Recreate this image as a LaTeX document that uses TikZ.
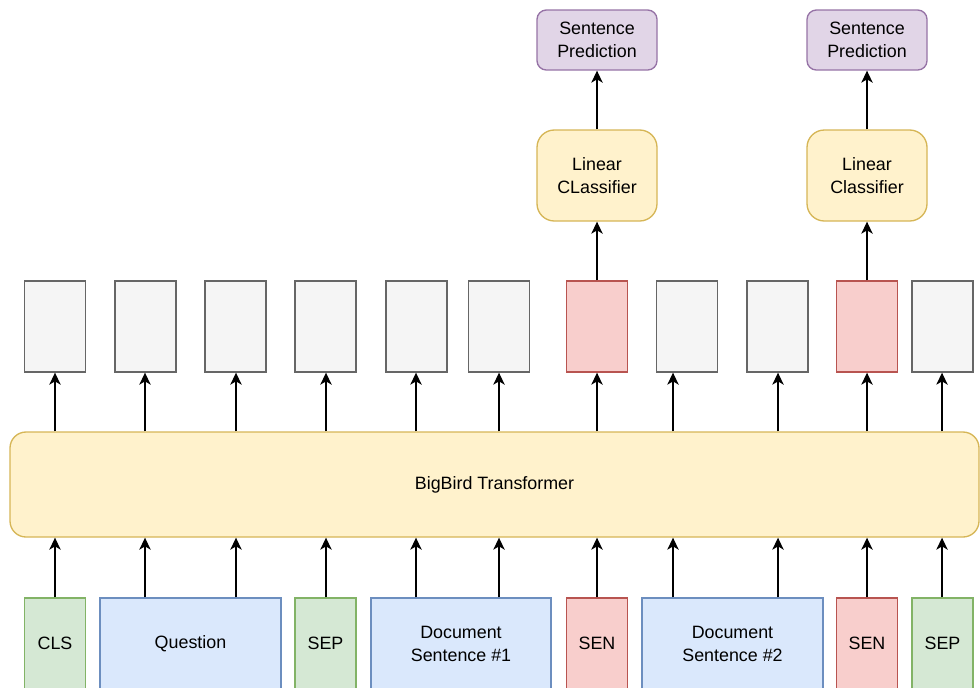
\documentclass[tikz,border=0pt]{standalone}
\usepackage{fontspec}
\setmainfont{Liberation Sans}
\usetikzlibrary{arrows.meta}

\definecolor{tokfill}{HTML}{F5F5F5}
\definecolor{tokline}{HTML}{666666}
\definecolor{senfill}{HTML}{F8CECC}
\definecolor{senline}{HTML}{B85450}
\definecolor{spcfill}{HTML}{D5E8D4}
\definecolor{spcline}{HTML}{82B366}
\definecolor{txtfill}{HTML}{DAE8FC}
\definecolor{txtline}{HTML}{6C8EBF}
\definecolor{modfill}{HTML}{FFF2CC}
\definecolor{modline}{HTML}{D6B656}
\definecolor{outfill}{HTML}{E1D5E7}
\definecolor{outline}{HTML}{9673A6}

\tikzset{
    every node/.style={font=\fontsize{13.4pt}{17.3pt}\selectfont, align=center, inner sep=0pt},
    token/.style={draw, line width=1pt, minimum width=45.75pt, minimum height=68.25pt},
    graytok/.style={token, fill=tokfill, draw=tokline},
    sentok/.style={token, fill=senfill, draw=senline},
    spctok/.style={token, fill=spcfill, draw=spcline},
    txttok/.style={token, fill=txtfill, draw=txtline},
    classbox/.style={draw=modline, fill=modfill, line width=1pt, rounded corners=13pt,
        minimum width=90pt, minimum height=68.25pt},
    predbox/.style={draw=outline, fill=outfill, line width=1pt, rounded corners=7pt,
        minimum width=90pt, minimum height=45pt},
    arr/.style={line width=1.1pt, -{Stealth[length=9pt,width=8.5pt,inset=2.5pt]}},
}

\begin{document}
\begin{tikzpicture}[x=0.75pt,y=-0.75pt]
        \useasboundingbox (0,0) rectangle (980,687);
        %% transformer
        \node[draw=modline, fill=modfill, line width=1pt, rounded corners=12pt,
            minimum width=726.75pt, minimum height=78.75pt] (bigbird) at (494.5,484.5) {BigBird Transformer};
        %% input tokens
        \node[spctok] (cls) at (55,643.5) {CLS};
        \node[txttok, minimum width=135.75pt] (question) at (190.5,643.5) {Question};
        \node[spctok] (sepa) at (325.5,643.5) {SEP};
        \node[txttok, minimum width=135pt] (docone) at (461,643.5) {Document\\Sentence \#1};
        \node[sentok] (senone) at (597,643.5) {SEN};
        \node[txttok, minimum width=135.75pt] (doctwo) at (732.5,643.5) {Document\\Sentence \#2};
        \node[sentok] (sentwo) at (867,643.5) {SEN};
        \node[spctok] (sepb) at (942.5,643.5) {SEP};
        %% output embeddings
        \node[graytok] (out1) at (55,326.5) {};
        \node[graytok] (out2) at (145.5,326.5) {};
        \node[graytok] (out3) at (235.5,326.5) {};
        \node[graytok] (out4) at (325.5,326.5) {};
        \node[graytok] (out5) at (416.5,326.5) {};
        \node[graytok] (out6) at (499,326.5) {};
        \node[sentok] (out7) at (597,326.5) {};
        \node[graytok] (out8) at (687,326.5) {};
        \node[graytok] (out9) at (777.5,326.5) {};
        \node[sentok] (out10) at (867,326.5) {};
        \node[graytok] (out11) at (942.5,326.5) {};
        %% heads
        \node[classbox] (clsone) at (597,175.5) {Linear\\CLassifier};
        \node[classbox] (clstwo) at (867,175.5) {Linear\\Classifier};
        \node[predbox] (predone) at (597,40) {Sentence\\Prediction};
        \node[predbox] (predtwo) at (867,40) {Sentence\\Prediction};
        %% arrow columns
        \coordinate (col1) at (55,0);
        \coordinate (col2) at (145,0);
        \coordinate (col3) at (236,0);
        \coordinate (col4) at (326,0);
        \coordinate (col5) at (416,0);
        \coordinate (col6) at (499,0);
        \coordinate (col7) at (597,0);
        \coordinate (col8) at (673,0);
        \coordinate (col9) at (778,0);
        \coordinate (col10) at (867,0);
        \coordinate (col11) at (942,0);
        %% inputs into transformer
        \draw[arr] (col1 |- cls.north) -- (col1 |- bigbird.south);
        \draw[arr] (col2 |- question.north) -- (col2 |- bigbird.south);
        \draw[arr] (col3 |- question.north) -- (col3 |- bigbird.south);
        \draw[arr] (col4 |- sepa.north) -- (col4 |- bigbird.south);
        \draw[arr] (col5 |- docone.north) -- (col5 |- bigbird.south);
        \draw[arr] (col6 |- docone.north) -- (col6 |- bigbird.south);
        \draw[arr] (col7 |- senone.north) -- (col7 |- bigbird.south);
        \draw[arr] (col8 |- doctwo.north) -- (col8 |- bigbird.south);
        \draw[arr] (col9 |- doctwo.north) -- (col9 |- bigbird.south);
        \draw[arr] (col10 |- sentwo.north) -- (col10 |- bigbird.south);
        \draw[arr] (col11 |- sepb.north) -- (col11 |- bigbird.south);
        %% transformer into outputs
        \draw[arr] (col1 |- bigbird.north) -- (col1 |- out1.south);
        \draw[arr] (col2 |- bigbird.north) -- (col2 |- out2.south);
        \draw[arr] (col3 |- bigbird.north) -- (col3 |- out3.south);
        \draw[arr] (col4 |- bigbird.north) -- (col4 |- out4.south);
        \draw[arr] (col5 |- bigbird.north) -- (col5 |- out5.south);
        \draw[arr] (col6 |- bigbird.north) -- (col6 |- out6.south);
        \draw[arr] (col7 |- bigbird.north) -- (col7 |- out7.south);
        \draw[arr] (col8 |- bigbird.north) -- (col8 |- out8.south);
        \draw[arr] (col9 |- bigbird.north) -- (col9 |- out9.south);
        \draw[arr] (col10 |- bigbird.north) -- (col10 |- out10.south);
        \draw[arr] (col11 |- bigbird.north) -- (col11 |- out11.south);
        %% sentence heads
        \draw[arr] (out7.north) -- (clsone.south);
        \draw[arr] (clsone.north) -- (predone.south);
        \draw[arr] (out10.north) -- (clstwo.south);
        \draw[arr] (clstwo.north) -- (predtwo.south);
    \end{tikzpicture}
\end{document}
